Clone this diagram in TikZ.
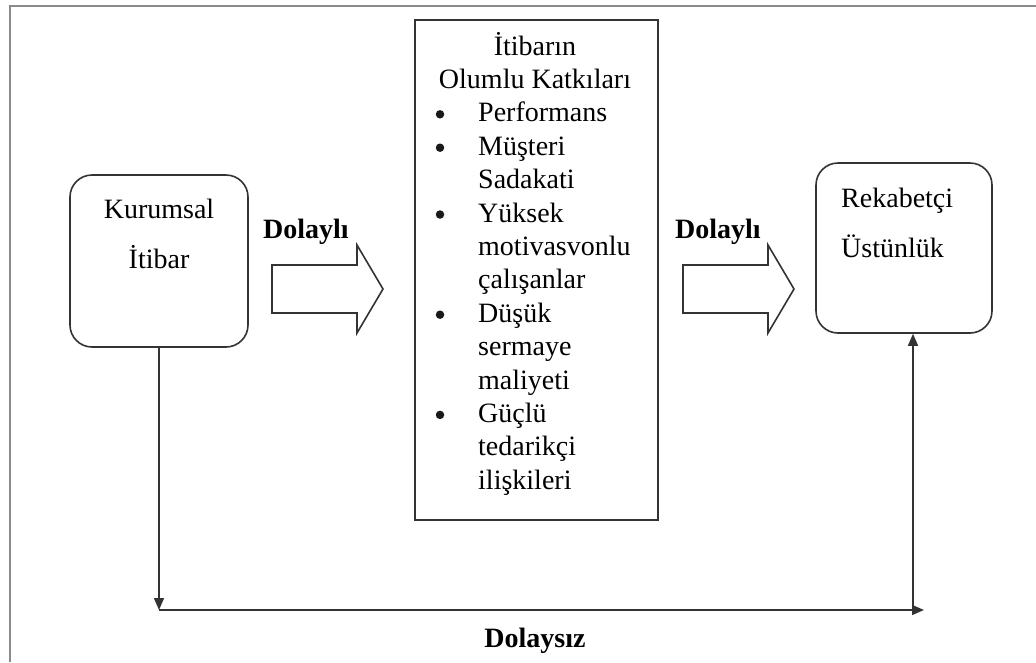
\documentclass[tikz,border=0pt]{standalone}
\usepackage{fontspec}
\setmainfont{Liberation Serif}
\usetikzlibrary{arrows.meta}
\definecolor{linegray}{HTML}{333333}
\definecolor{framegray}{HTML}{8A8A8A}
\begin{document}
\begin{tikzpicture}[x=1pt,y=-1pt,
  txt/.style={inner sep=0pt, font=\fontsize{28}{33}\selectfont},
  boldtxt/.style={inner sep=0pt, font=\fontsize{28}{33}\selectfont\bfseries},
  bulletdot/.style={circle, fill=black!90, inner sep=0pt, minimum size=8.5pt},
  roundbox/.style={draw=linegray, line width=1.6pt, rounded corners=22pt, inner sep=0pt},
  listbox/.style={draw=linegray, line width=1.5pt, inner sep=0pt},
  blockarrow/.style={draw=linegray, line width=1.6pt, line join=miter, fill=white},
  conn/.style={draw=linegray, line width=1.4pt, -{Triangle[length=12pt,width=10pt]}},
  frameline/.style={draw=framegray, line width=2pt}
]
\useasboundingbox (0,0) rectangle (1036,662);

% outer frame (top and left edges)
\draw[frameline] (10,662) -- (10,6) -- (1036,6);

% source box
\node[roundbox, minimum width=178pt, minimum height=172pt] (kur) at (159,261) {};
\node[txt, anchor=base] (kurA) at (159,218) {Kurumsal};
\node[txt, anchor=base] (kurB) at (159,268) {İtibar};

% list of positive contributions
\node[listbox, minimum width=243pt, minimum height=500pt] (mid) at (536.5,270) {};
\node[txt, anchor=base] (h1) at (535,55) {İtibarın};
\node[txt, anchor=base] (h2) at (535,88.4) {Olumlu Katkıları};
\foreach \name/\k/\t in {p1/2/Performans, p2/3/Müşteri, p3/4/Sadakati, p4/5/Yüksek,
    p5/6/motivasvonlu, p6/7/çalışanlar, p7/8/Düşük, p8/9/sermaye, p9/10/maliyeti,
    p10/11/Güçlü, p11/12/tedarikçi, p12/13/ilişkileri}
  \node[txt, anchor=base west] (\name) at (478,55+33.4*\k) {\t};
\foreach \name/\k in {b1/2, b2/3, b3/5, b4/8, b5/11}
  \node[bulletdot] (\name) at (440,47.5+33.4*\k) {};

% target box
\node[roundbox, minimum width=176pt, minimum height=170pt] (rek) at (904,248) {};
\node[txt, anchor=base west] (rekA) at (841,207) {Rekabetçi};
\node[txt, anchor=base west] (rekB) at (841,257) {Üstünlük};

% indirect effects (block arrows)
\draw[blockarrow] (272,265) -- (357,265) -- (357,245) -- (383,289) -- (357,333) -- (357,313) -- (272,313) -- cycle;
\node[boldtxt, anchor=base west] (d1) at (263,238) {Dolaylı};
\draw[blockarrow] (683,265) -- (768,265) -- (768,245) -- (794,289) -- (768,333) -- (768,313) -- (683,313) -- cycle;
\node[boldtxt, anchor=base west] (d2) at (675,238) {Dolaylı};

% direct effect
\coordinate (bl) at (kur.south |- 0,610);
\coordinate (br) at (924,610);
\coordinate (up) at (913,610);
\draw[conn] (kur.south) -- (bl);
\draw[conn] (bl) -- (br);
\draw[conn] (up) -- (up |- rek.south);
\node[boldtxt, anchor=base] (d3) at (535,647) {Dolaysız};
\end{tikzpicture}
\end{document}
